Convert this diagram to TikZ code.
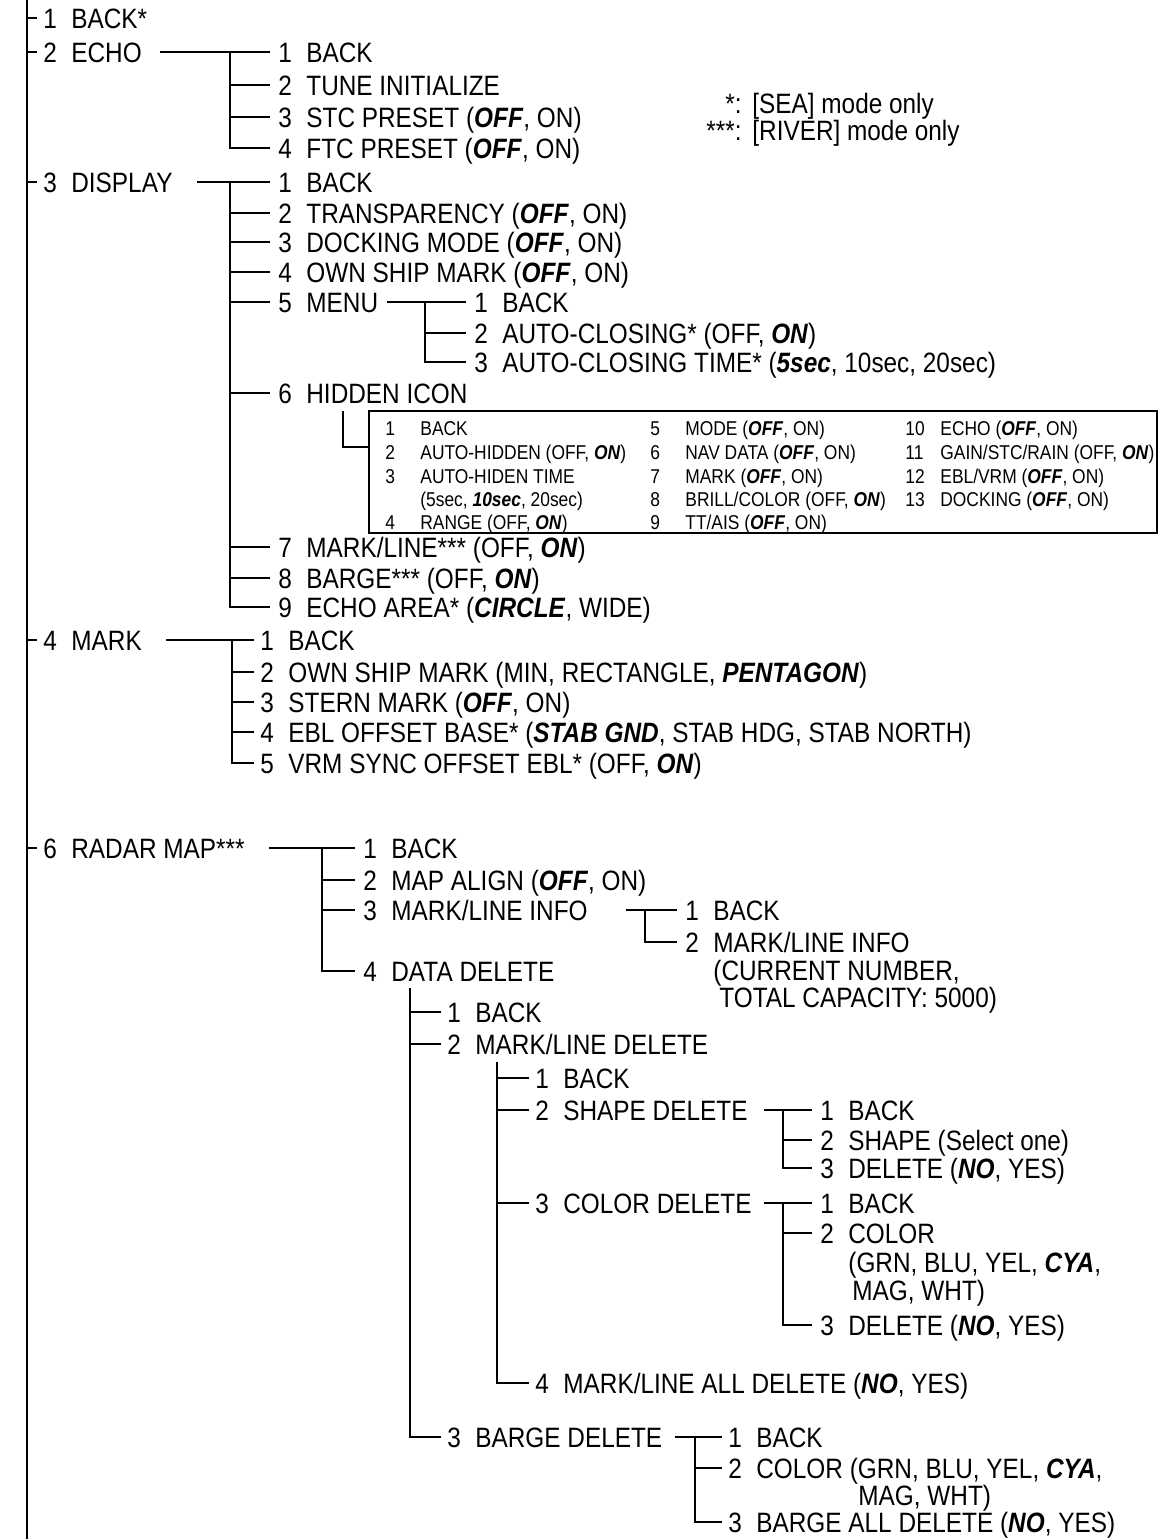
\documentclass[tikz,border=0pt]{standalone}
\usepackage{fontspec}
\setmainfont{Liberation Sans}[FakeStretch=0.87]
\usetikzlibrary{positioning, calc}

\newcommand{\bi}[1]{\textbf{\textit{#1}}}
\newcommand{\numtxt}[2]{\makebox[14pt][l]{#1}#2}
\newcommand{\boxnum}[2]{\makebox[17.5pt][l]{#1}#2}

\begin{document}
\begin{tikzpicture}[x=0.5pt, y=-0.5pt,
    entry/.style={anchor=west, inner sep=0pt, text height=10pt, text depth=0pt, font=\fontsize{14}{16}\selectfont},
    boxentry/.style={anchor=west, inner sep=0pt, text height=7.2pt, text depth=0pt, font=\fontsize{10}{12}\selectfont},
    link/.style={line width=0.9pt}
]
    \useasboundingbox (0,0) rectangle (1167,1539);

    % main spine
    \coordinate (top) at (27,0);
    \coordinate (bot) at (27,1539);
    \draw[link] (top) -- (bot);

    % first level
    \node[entry] (back0) at (43,18)  {\numtxt{1}{BACK*}};
    \node[entry] (echo)  at (43,52)  {\numtxt{2}{ECHO}};
    \node[entry] (disp)  at (43,182) {\numtxt{3}{DISPLAY}};
    \node[entry] (mark)  at (43,640) {\numtxt{4}{MARK}};
    \node[entry] (rmap)  at (43,848) {\numtxt{6}{RADAR MAP***}};
    \foreach \p in {back0,echo,disp,mark,rmap}
        \draw[link] (top |- \p.west) -- ([xshift=-3pt]\p.west);

    % legend
    \node[entry, anchor=east] (starA) at (742,103) {*:};
    \node[entry, right=5pt of starA] (seaTxt) {[SEA] mode only};
    \node[entry, anchor=east] (starB) at (742,130) {***:};
    \node[entry, right=5pt of starB] (riverTxt) {[RIVER] mode only};

    % ECHO
    \coordinate (echoJ) at (230,52);
    \foreach \n/\y/\t in {1/52/{BACK}, 2/85/{TUNE INITIALIZE},
        3/117/{STC PRESET (\bi{OFF}, ON)}, 4/148/{FTC PRESET (\bi{OFF}, ON)}}
        \node[entry] (echo-\n) at (278,\y) {\numtxt{\n}{\t}};
    \draw[link] ([xshift=9pt]echo.east) -- ([xshift=-4pt]echo-1.west);
    \draw[link] (echoJ) |- ([xshift=-4pt]echo-4.west);
    \foreach \n in {2,3}
        \draw[link] (echoJ |- echo-\n.west) -- ([xshift=-4pt]echo-\n.west);

    % DISPLAY
    \coordinate (dispJ) at (230,182);
    \foreach \n/\y/\t in {1/182/{BACK}, 2/213/{TRANSPARENCY (\bi{OFF}, ON)},
        3/242/{DOCKING MODE (\bi{OFF}, ON)}, 4/272/{OWN SHIP MARK (\bi{OFF}, ON)},
        5/302/{MENU}, 6/393/{HIDDEN ICON}, 7/547/{MARK/LINE*** (OFF, \bi{ON})},
        8/578/{BARGE*** (OFF, \bi{ON})}, 9/607/{ECHO AREA* (\bi{CIRCLE}, WIDE)}}
        \node[entry] (disp-\n) at (278,\y) {\numtxt{\n}{\t}};
    \draw[link] ([xshift=12pt]disp.east) -- ([xshift=-4pt]disp-1.west);
    \draw[link] (dispJ) |- ([xshift=-4pt]disp-9.west);
    \foreach \n in {2,...,8}
        \draw[link] (dispJ |- disp-\n.west) -- ([xshift=-4pt]disp-\n.west);

    % MENU
    \coordinate (menuJ) at (425,302);
    \foreach \n/\y/\t in {1/302/{BACK}, 2/333/{AUTO-CLOSING* (OFF, \bi{ON})},
        3/362/{AUTO-CLOSING TIME* (\bi{5sec}, 10sec, 20sec)}}
        \node[entry] (menu-\n) at (474,\y) {\numtxt{\n}{\t}};
    \draw[link] ([xshift=4pt]disp-5.east) -- ([xshift=-4pt]menu-1.west);
    \draw[link] (menuJ) |- ([xshift=-4pt]menu-3.west);
    \draw[link] (menuJ |- menu-2.west) -- ([xshift=-4pt]menu-2.west);

    % HIDDEN ICON box
    \node[draw, link, inner sep=0pt, anchor=north west, minimum width=394pt, minimum height=61pt] (hidBox) at (368,410) {};
    \draw[link] ([xshift=32.5pt, yshift=-4pt]disp-6.south west) |- ($(hidBox.north west)!0.3!(hidBox.south west)$);
    \foreach \n/\y/\t in {1/428/{BACK}, 2/452/{AUTO-HIDDEN (OFF, \bi{ON})},
        3/476/{AUTO-HIDEN TIME}, {}/499/{(5sec, \bi{10sec}, 20sec)}, 4/522/{RANGE (OFF, \bi{ON})}}
        \node[boxentry] (hidA-\y) at (385,\y) {\boxnum{\n}{\t}};
    \foreach \n/\y/\t in {5/428/{MODE (\bi{OFF}, ON)}, 6/452/{NAV DATA (\bi{OFF}, ON)},
        7/476/{MARK (\bi{OFF}, ON)}, 8/499/{BRILL/COLOR (OFF, \bi{ON})}, 9/522/{TT/AIS (\bi{OFF}, ON)}}
        \node[boxentry] (hidB-\n) at (650,\y) {\boxnum{\n}{\t}};
    \foreach \n/\y/\t in {10/428/{ECHO (\bi{OFF}, ON)}, 11/452/{GAIN/STC/RAIN (OFF, \bi{ON})},
        12/476/{EBL/VRM (\bi{OFF}, ON)}, 13/499/{DOCKING (\bi{OFF}, ON)}}
        \node[boxentry] (hidC-\n) at (905,\y) {\boxnum{\n}{\t}};

    % MARK
    \coordinate (markJ) at (232,640);
    \foreach \n/\y/\t in {1/640/{BACK}, 2/672/{OWN SHIP MARK (MIN, RECTANGLE, \bi{PENTAGON})},
        3/702/{STERN MARK (\bi{OFF}, ON)}, 4/732/{EBL OFFSET BASE* (\bi{STAB GND}, STAB HDG, STAB NORTH)},
        5/763/{VRM SYNC OFFSET EBL* (OFF, \bi{ON})}}
        \node[entry] (mark-\n) at (260,\y) {\numtxt{\n}{\t}};
    \draw[link] ([xshift=12pt]mark.east) -- ([xshift=-3pt]mark-1.west);
    \draw[link] (markJ) |- ([xshift=-3pt]mark-5.west);
    \foreach \n in {2,3,4}
        \draw[link] (markJ |- mark-\n.west) -- ([xshift=-3pt]mark-\n.west);

    % RADAR MAP
    \coordinate (rmapJ) at (322,848);
    \foreach \n/\y/\t in {1/848/{BACK}, 2/880/{MAP ALIGN (\bi{OFF}, ON)},
        3/910/{MARK/LINE INFO}, 4/971/{DATA DELETE}}
        \node[entry] (rmap-\n) at (363,\y) {\numtxt{\n}{\t}};
    \draw[link] ([xshift=12pt]rmap.east) -- ([xshift=-4pt]rmap-1.west);
    \draw[link] (rmapJ) |- ([xshift=-4pt]rmap-4.west);
    \foreach \n in {2,3}
        \draw[link] (rmapJ |- rmap-\n.west) -- ([xshift=-4pt]rmap-\n.west);

    % MARK/LINE INFO
    \coordinate (mliJ) at (645,910);
    \node[entry] (mli-1) at (685,910) {\numtxt{1}{BACK}};
    \node[entry] (mli-2) at (685,942) {\numtxt{2}{MARK/LINE INFO}};
    \node[entry] (mli-2b) at (713,970) {(CURRENT NUMBER,};
    \node[entry] (mli-2c) at (713,997) {\hspace{3pt}TOTAL CAPACITY: 5000)};
    \draw[link] ([xshift=19pt]rmap-3.east) -- ([xshift=-4pt]mli-1.west);
    \draw[link] (mliJ) |- ([xshift=-4pt]mli-2.west);

    % DATA DELETE
    \coordinate (ddJ) at (410,988);
    \foreach \n/\y/\t in {1/1012/{BACK}, 2/1044/{MARK/LINE DELETE}, 3/1437/{BARGE DELETE}}
        \node[entry] (dd-\n) at (447,\y) {\numtxt{\n}{\t}};
    \draw[link] (ddJ) |- ([xshift=-3pt]dd-3.west);
    \foreach \n in {1,2}
        \draw[link] (ddJ |- dd-\n.west) -- ([xshift=-3pt]dd-\n.west);

    % MARK/LINE DELETE
    \coordinate (mldJ) at (497,1062);
    \foreach \n/\y/\t in {1/1078/{BACK}, 2/1110/{SHAPE DELETE}, 3/1203/{COLOR DELETE},
        4/1383/{MARK/LINE ALL DELETE (\bi{NO}, YES)}}
        \node[entry] (mld-\n) at (535,\y) {\numtxt{\n}{\t}};
    \draw[link] (mldJ) |- ([xshift=-3pt]mld-4.west);
    \foreach \n in {1,2,3}
        \draw[link] (mldJ |- mld-\n.west) -- ([xshift=-3pt]mld-\n.west);

    % SHAPE DELETE
    \coordinate (sdJ) at (783,1110);
    \foreach \n/\y/\t in {1/1110/{BACK}, 2/1140/{SHAPE (Select one)}, 3/1168/{DELETE (\bi{NO}, YES)}}
        \node[entry] (sd-\n) at (820,\y) {\numtxt{\n}{\t}};
    \draw[link] ([xshift=8pt]mld-2.east) -- ([xshift=-4pt]sd-1.west);
    \draw[link] (sdJ) |- ([xshift=-4pt]sd-3.west);
    \draw[link] (sdJ |- sd-2.west) -- ([xshift=-4pt]sd-2.west);

    % COLOR DELETE
    \coordinate (cdJ) at (783,1203);
    \foreach \n/\y/\t in {1/1203/{BACK}, 2/1233/{COLOR}, 3/1325/{DELETE (\bi{NO}, YES)}}
        \node[entry] (cd-\n) at (820,\y) {\numtxt{\n}{\t}};
    \node[entry] (cd-2b) at (848,1262) {(GRN, BLU, YEL, \bi{CYA},};
    \node[entry] (cd-2c) at (852,1290) {MAG, WHT)};
    \draw[link] ([xshift=6pt]mld-3.east) -- ([xshift=-4pt]cd-1.west);
    \draw[link] (cdJ) |- ([xshift=-4pt]cd-3.west);
    \draw[link] (cdJ |- cd-2.west) -- ([xshift=-4pt]cd-2.west);

    % BARGE DELETE
    \coordinate (bdJ) at (695,1437);
    \foreach \n/\y/\t in {1/1437/{BACK}, 2/1468/{COLOR (GRN, BLU, YEL, \bi{CYA},},
        3/1522/{BARGE ALL DELETE (\bi{NO}, YES)}}
        \node[entry] (bd-\n) at (728,\y) {\numtxt{\n}{\t}};
    \node[entry] (bd-2b) at (858,1495) {MAG, WHT)};
    \draw[link] ([xshift=6pt]dd-3.east) -- ([xshift=-3pt]bd-1.west);
    \draw[link] (bdJ) |- ([xshift=-3pt]bd-3.west);
    \draw[link] (bdJ |- bd-2.west) -- ([xshift=-3pt]bd-2.west);
\end{tikzpicture}
\end{document}
